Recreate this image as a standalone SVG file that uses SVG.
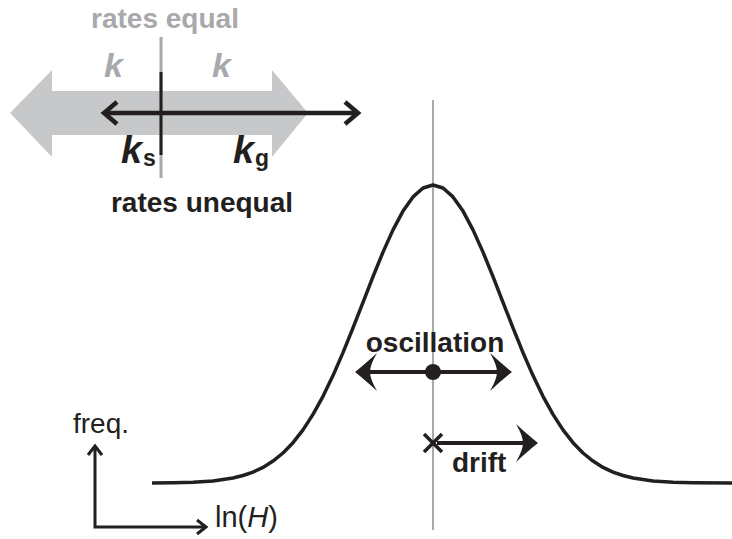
<svg xmlns="http://www.w3.org/2000/svg" width="732" height="539" viewBox="0 0 732 539">
<style>
.t{font-family:"Liberation Sans",Arial,sans-serif;fill:#231F20}
.b{font-weight:bold}
.g{fill:#A7A9AC}
.ln{stroke:#231F20;fill:none}
.head{fill:#231F20}
</style>
<defs>
<path id="bh" d="M0,0 Q-10,-8 -22,-19 Q-15,-7 -15,0 Q-15,7 -22,19 Q-10,8 0,0 Z"/>
</defs>
<rect width="732" height="539" fill="#fff"/>
<g id="rates-equal">
<polygon points="10,113 52,70 52,91 272,91 272,70 308,113 272,157 272,135 52,135 52,157" fill="#C7C8CA"/>
<text class="t b g" x="165" y="28" font-size="28" text-anchor="middle">rates equal</text>
<text class="t b g" x="104" y="77" font-size="34" font-style="italic">k</text>
<text class="t b g" x="212" y="77" font-size="34" font-style="italic">k</text>
</g>
<g id="divider">
<line x1="161" y1="37" x2="161" y2="178" stroke="#A7A9AC" stroke-width="3"/>
<line x1="161" y1="72" x2="161" y2="155" stroke="#231F20" stroke-width="3"/>
</g>
<g id="rates-unequal">
<line class="ln" x1="105" y1="113" x2="357" y2="113" stroke-width="4.5"/>
<polyline class="ln" points="117,102 104,113 117,124" stroke-width="4.5" stroke-miterlimit="10"/>
<polyline class="ln" points="345,102 358,113 345,124" stroke-width="4.5" stroke-miterlimit="10"/>
<text class="t b" x="121" y="163" font-size="38" font-style="italic">k</text>
<text class="t b" x="143" y="166" font-size="23">s</text>
<text class="t b" x="233" y="163" font-size="38" font-style="italic">k</text>
<text class="t b" x="255" y="166" font-size="23">g</text>
<text class="t b" x="202" y="212" font-size="28" text-anchor="middle">rates unequal</text>
</g>
<g id="center-line">
<line x1="433" y1="100" x2="433" y2="530" stroke="#A7A9AC" stroke-width="2"/>
</g>
<g id="distribution">
<path class="ln" stroke-width="3.5" stroke-linejoin="round" d="M152,483 L173,482.7 L193,482.2 L213,480.9 L233,478 L243,475.5 L253,472.1 L263,467.4 L273,461.1 L283,453 L293,442.7 L303,429.9 L313,414.4 L323,396.3 L333,375.6 L343,352.6 L353,327.9 L363,302.3 L373,276.6 L383,252.1 L393,229.9 L403,211.1 L413,196.9 L423,188 L433,185 L443,188 L453,196.9 L463,211.1 L473,229.9 L483,252.1 L493,276.6 L503,302.3 L513,327.9 L523,352.6 L533,375.6 L543,396.3 L553,414.4 L563,429.9 L573,442.7 L583,453 L593,461.1 L603,467.4 L613,472.1 L623,475.5 L633,478 L653,480.9 L673,482.2 L693,482.7 L732,483"/>
</g>
<g id="oscillation">
<text class="t b" x="435" y="352" font-size="28" text-anchor="middle">oscillation</text>
<line class="ln" x1="362" y1="372" x2="505" y2="372" stroke-width="4"/>
<use href="#bh" class="head" transform="translate(355,372) rotate(180)"/>
<use href="#bh" class="head" transform="translate(512,372)"/>
<circle cx="433" cy="372" r="8" fill="#231F20"/>
</g>
<g id="drift">
<line class="ln" x1="424" y1="434" x2="442" y2="452" stroke-width="3.5"/>
<line class="ln" x1="442" y1="434" x2="424" y2="452" stroke-width="3.5"/>
<line class="ln" x1="437" y1="443" x2="530" y2="443" stroke-width="4"/>
<use href="#bh" class="head" transform="translate(538,443)"/>
<text class="t b" x="452" y="472" font-size="28">drift</text>
</g>
<g id="axes">
<polyline class="ln" points="95,447 95,527 205,527" stroke-width="3"/>
<polyline class="ln" points="88,455 95,446 102,455" stroke-width="3"/>
<polyline class="ln" points="197,520 206,527 197,534" stroke-width="3"/>
<text class="t" x="73" y="433" font-size="28">freq.</text>
<text class="t" x="215" y="527" font-size="29">ln(<tspan font-style="italic">H</tspan>)</text>
</g>
</svg>
